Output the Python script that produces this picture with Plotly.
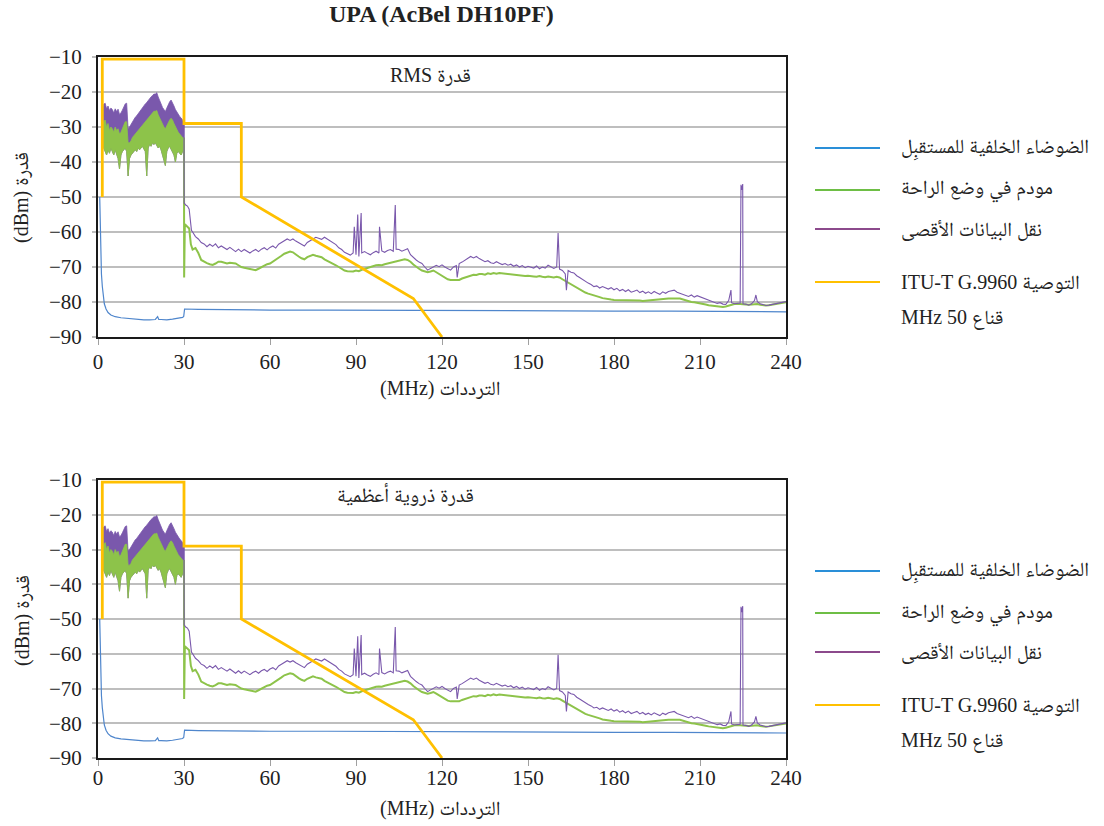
import plotly.graph_objects as go

# ---------------- data ----------------
# Yellow mask: ITU-T G.9960 50 MHz
MASK_F = [1.5, 1.5, 30, 30, 50, 50, 110, 120]
MASK_V = [-50, -10.6, -10.6, -29, -29, -50, -79, -90]

# Receiver background noise (blue)
NOISE_F = [0.6, 0.8, 1.0, 1.2, 1.5, 1.8, 2.2, 2.8, 3.5, 4.5,
           6, 8, 10, 12, 14, 16, 18, 20, 20.8, 21.2,
           22, 24, 26, 28, 29.5, 29.9, 30.2, 35, 45, 60,
           80, 100, 120, 140, 160, 180, 200, 220, 240]
NOISE_V = [-50, -62, -69, -72, -75.5, -78, -80.5, -82, -83, -83.7,
           -84.2, -84.5, -84.7, -84.9, -85, -85.1, -85.1, -85, -84.2, -85,
           -85, -85.1, -84.9, -84.7, -84.4, -84.1, -82.0, -82.1, -82.2, -82.3,
           -82.3, -82.4, -82.5, -82.4, -82.5, -82.6, -82.6, -82.7, -82.8]

# 2-30 MHz band envelopes
LOW_F = [1.8, 2.0, 2.5, 3.0, 3.5, 4.0, 4.5, 5.0, 5.5, 6.0, 6.5, 7.0, 7.5, 8.0, 8.5,
         9.0, 9.5, 10.0, 10.5, 11.0, 11.5, 12.0, 12.5, 13.0, 13.5, 14.0, 14.5, 15.0,
         15.5, 16.0, 16.5, 17.0, 17.5, 18.0, 18.5, 19.0, 19.5, 20.0, 20.5, 21.0, 21.5,
         22.0, 22.5, 23.0, 23.5, 24.0, 24.5, 25.0, 25.5, 26.0, 26.5, 27.0, 27.5, 28.0,
         28.5, 29.0, 29.5, 30.0]
MAXDATA_UP = [-27, -23.5, -23.2, -24.8, -24.0, -25.3, -24.6, -25.0, -26.0, -24.8, -25.6,
              -24.9, -26.4, -26.0, -25.2, -24.3, -23.4, -23.2, -30.5, -30.0, -29.2, -28.4,
              -27.9, -27.2, -26.8, -26.2, -25.8, -25.0, -24.6, -24.0, -23.4, -23.0, -22.4,
              -22.0, -21.4, -21.0, -20.6, -20.6, -20.2, -21.4, -22.5, -23.4, -24.4, -25.0,
              -25.6, -24.6, -23.6, -22.8, -22.3, -23.0, -24.0, -25.0, -25.8, -26.4, -27.0,
              -27.4, -28.0, -29.0]
IDLE_UP = [-30, -28.5, -28, -30, -29, -31, -30, -30.5, -31.5, -30, -31, -30.5, -32, -31.5,
           -30.5, -29.5, -28.5, -28.5, -34.5, -34.5, -34, -33, -32.5, -32, -31.5, -31, -30.5,
           -30, -29.5, -29, -28.5, -28, -27.5, -27, -26.5, -26, -25.5, -25.5, -25.3, -26.5,
           -27.5, -28.5, -29.5, -30, -30.5, -29.5, -28.5, -28, -27.5, -28, -29, -30, -31,
           -31.5, -32, -32.5, -33, -33.5]
IDLE_LO = [-34, -36, -37, -38, -36.5, -37.5, -36, -37, -38, -36.5, -37.5, -39, -42, -38,
           -37, -36.5, -36, -37, -44, -39, -38, -37.5, -37, -36.5, -37, -36, -36.5, -36,
           -35.5, -36, -37, -44, -36, -35, -35.5, -34.5, -35, -34.5, -35, -36, -35.5, -36.5,
           -38, -39, -41, -37, -36, -35.5, -36, -37, -38, -40, -37.5, -37, -37.5, -38, -37,
           -36]

# 33-240 MHz, 1 MHz grid
HI_F = list(range(33, 241))
MAXDATA_HI = [
    -60.0, -61.3, -62.0, -63.0, -63.4, -64.2, -63.5, -64.1, -63.4, -64.5,
    -64.0, -64.6, -65.0, -64.4, -65.1, -65.6, -64.9, -65.6, -65.0, -65.5,
    -66.0, -65.4, -65.0, -65.6, -64.9, -64.5, -65.1, -64.4, -64.0, -64.6,
    -63.5, -63.0, -62.6, -62.0, -62.4, -62.0, -62.6, -63.0, -63.6, -64.0,
    -63.0, -62.6, -62.0, -61.5, -61.8, -62.1, -61.5, -62.0, -62.6, -63.0,
    -63.6, -64.5, -65.0, -65.8, -66.2, -66.6, -66.0, -66.5, -67.0, -66.0,
    -65.6, -66.1, -66.5, -65.9, -65.5, -66.0, -65.4, -65.8, -65.3, -65.0,
    -65.5, -64.9, -65.0, -65.5, -65.2, -64.8, -66.5, -67.4, -68.0, -68.6,
    -69.0, -70.0, -70.9, -70.4, -70.0, -69.5, -69.9, -69.4, -70.0, -70.5,
    -70.9, -70.0, -69.6, -69.0, -68.6, -68.0, -67.6, -67.0, -67.4, -67.0,
    -67.6, -68.0, -68.5, -68.2, -68.8, -69.0, -68.5, -68.9, -69.3, -69.0,
    -69.5, -69.2, -69.8, -69.4, -70.0, -69.6, -70.2, -69.8, -70.0, -70.3,
    -69.7, -70.5, -70.0, -70.3, -69.5, -70.0, -70.4, -70.0, -70.6, -71.0,
    -72.0, -71.0, -71.5, -71.7, -72.5, -73.0, -73.6, -74.0, -74.6, -75.0,
    -75.6, -75.4, -76.0, -75.6, -76.0, -76.3, -75.9, -76.5, -76.1, -76.8,
    -76.4, -77.0, -76.5, -77.2, -76.9, -76.6, -77.3, -76.9, -77.5, -77.1,
    -77.6, -77.0, -77.4, -77.8, -77.1, -77.5, -77.0, -76.8, -76.6, -77.2,
    -77.5, -77.9, -78.0, -78.4, -78.0, -78.6, -78.2, -78.5, -79.0, -79.3,
    -79.5, -79.9, -80.0, -80.4, -80.2, -80.6, -80.7, -79.6, -80.2, -80.5,
    -80.3, -80.3, -80.5, -80.6, -80.9, -80.5, -79.6, -79.9, -80.5, -80.8,
    -81.0, -80.9, -80.7, -80.5, -80.3, -80.2, -80.0, -79.9]
IDLE_HI = [
    -65.0, -64.6, -66.0, -68.0, -68.5, -68.9, -69.2, -69.4, -69.0, -68.5,
    -68.5, -68.7, -69.0, -68.8, -68.9, -69.0, -69.5, -70.0, -70.2, -70.4,
    -70.7, -70.9, -70.9, -70.5, -70.0, -69.5, -69.2, -69.0, -68.5, -68.0,
    -67.5, -66.8, -66.2, -65.8, -65.6, -65.8, -66.5, -67.0, -67.5, -67.8,
    -67.2, -66.8, -66.5, -66.8, -67.0, -67.2, -67.8, -68.2, -68.5, -69.0,
    -69.5, -70.0, -70.5, -71.0, -71.2, -71.3, -71.3, -71.0, -71.2, -70.8,
    -70.5, -70.2, -70.0, -69.8, -69.5, -69.4, -69.5, -69.2, -69.0, -68.8,
    -68.5, -68.3, -68.0, -68.0, -67.8, -68.0, -68.5, -69.3, -70.0, -70.5,
    -71.0, -71.3, -71.5, -71.3, -71.0, -71.5, -72.0, -72.5, -73.0, -73.5,
    -73.7, -73.7, -73.5, -73.7, -73.3, -73.0, -72.6, -72.3, -72.2, -72.3,
    -72.0, -72.0, -72.2, -71.8, -72.0, -71.7, -71.9, -71.7, -71.8, -72.0,
    -71.9, -72.1, -72.2, -72.4, -72.3, -72.5, -72.6, -72.5, -72.7, -72.7,
    -72.8, -72.6, -72.8, -72.9, -72.7, -72.9, -73.0, -72.8, -73.0, -73.5,
    -74.0, -74.5, -75.0, -75.5, -76.0, -76.5, -77.0, -77.3, -77.6, -77.8,
    -78.0, -78.3, -78.6, -78.9, -79.1, -79.2, -79.3, -79.4, -79.4, -79.5,
    -79.5, -79.6, -79.6, -79.6, -79.5, -79.6, -79.6, -79.7, -79.6, -79.6,
    -79.6, -79.5, -79.4, -79.3, -79.2, -79.1, -79.0, -79.0, -78.9, -79.0,
    -79.0, -79.3, -79.6, -79.8, -80.0, -80.1, -80.2, -80.3, -80.5, -80.7,
    -80.9, -81.0, -81.2, -81.3, -81.4, -81.4, -81.3, -81.0, -80.8, -80.6,
    -80.5, -80.5, -80.6, -80.7, -80.8, -80.7, -80.5, -80.6, -80.8, -81.0,
    -81.0, -80.9, -80.8, -80.6, -80.4, -80.3, -80.2, -80.1]

# transitions at 30 MHz and narrow spikes
MAXDATA_EXTRA_F = [30.0, 30.05, 30.6, 31.2, 31.8, 32.2, 32.6, 89.4, 90.6, 91.8, 98.2,
                   103.7, 125.3, 160.5, 163.4, 220.8, 224.3, 224.6, 224.9, 229.5]
MAXDATA_EXTRA_V = [-29.0, -51.7, -52.3, -52.6, -53.5, -57.5, -59.5, -58.5, -55.0, -54.6,
                   -58.5, -52.3, -73.0, -60.3, -76.6, -76.6, -46.5, -48.0, -46.3, -78.0]
IDLE_EXTRA_F = [30.0, 30.05, 30.3, 31.0, 31.8, 32.4]
IDLE_EXTRA_V = [-33.0, -73.0, -57.8, -58.4, -59.0, -63.5]

X_TICKS = [0, 30, 60, 90, 120, 150, 180, 210, 240]
Y_TICKS = [-90, -80, -70, -60, -50, -40, -30, -20, -10]

TITLE = "<b>UPA (AcBel DH10PF)</b>"
PANEL_LABELS = ["RMS قدرة", "قدرة ذروية أعظمية"]
X_TITLE = "(MHz) الترددات"
Y_TITLE = "(dBm) قدرة"
LEGEND_TEXT = ["الضوضاء الخلفية للمستقبِل", "مودم في وضع الراحة", "نقل البيانات الأقصى",
               "ITU-T G.9960 التوصية", "MHz 50 قناع"]

# ---------------- styling ----------------
W, H = 1104, 826
FONT = "Liberation Serif, Times New Roman, Noto Naskh Arabic, DejaVu Sans, serif"
C_BLUE, C_GREEN, C_PURPLE, C_YELLOW = "#4F86CC", "#8DC34A", "#7A58AC", "#FFC000"
L_BLUE, L_GREEN, L_PURPLE = "#2A8FD8", "#6EBE45", "#8C4A8C"
TXT = "#222222"
TICK_SIZE, TEXT_SIZE = 21, 20


def px_x(px):
    return px / W


def px_y(py):
    return 1 - py / H


def merged(base_f, base_v, ex_f, ex_v):
    pts = sorted(list(zip(base_f, base_v)) + list(zip(ex_f, ex_v)))
    return [p[0] for p in pts], [p[1] for p in pts]


P_F, P_V = merged(HI_F, MAXDATA_HI, MAXDATA_EXTRA_F, MAXDATA_EXTRA_V)
G_F, G_V = merged(HI_F, IDLE_HI, IDLE_EXTRA_F, IDLE_EXTRA_V)

fig = go.Figure()
panels = [("x", "y", 0), ("x2", "y2", 423)]

for xa, ya, off in panels:
    fig.add_trace(go.Scatter(x=NOISE_F, y=NOISE_V, mode="lines", xaxis=xa, yaxis=ya,
                             line=dict(color=C_BLUE, width=1.2), hoverinfo="skip"))
    fig.add_trace(go.Scatter(x=LOW_F + LOW_F[::-1], y=MAXDATA_UP + IDLE_LO[::-1],
                             mode="lines", fill="toself", fillcolor=C_PURPLE,
                             xaxis=xa, yaxis=ya, line=dict(color=C_PURPLE, width=0.8),
                             hoverinfo="skip"))
    fig.add_trace(go.Scatter(x=LOW_F + LOW_F[::-1], y=IDLE_UP + IDLE_LO[::-1],
                             mode="lines", fill="toself", fillcolor=C_GREEN,
                             xaxis=xa, yaxis=ya, line=dict(color=C_GREEN, width=0.8),
                             hoverinfo="skip"))
    fig.add_trace(go.Scatter(x=G_F, y=G_V, mode="lines", xaxis=xa, yaxis=ya,
                             line=dict(color=C_GREEN, width=2), hoverinfo="skip"))
    fig.add_trace(go.Scatter(x=P_F, y=P_V, mode="lines", xaxis=xa, yaxis=ya,
                             line=dict(color=C_PURPLE, width=1.1), hoverinfo="skip"))
    fig.add_trace(go.Scatter(x=MASK_F, y=MASK_V, mode="lines", xaxis=xa, yaxis=ya,
                             line=dict(color=C_YELLOW, width=2.8), hoverinfo="skip"))

axis_common_x = dict(range=[0, 240], tickvals=X_TICKS, showgrid=False, zeroline=False,
                     showline=True, mirror=True, linecolor="#1a1a1a", linewidth=2,
                     ticks="outside", ticklen=6, tickcolor="#A0A0A0", tickwidth=1,
                     tickfont=dict(family=FONT, size=TICK_SIZE, color=TXT),
                     domain=[px_x(98), px_x(786)], automargin=False)
axis_common_y = dict(range=[-90, -10], tickvals=Y_TICKS, showgrid=True,
                     gridcolor="#BEBEBE", gridwidth=1.5, zeroline=False,
                     showline=True, mirror=True, linecolor="#1a1a1a", linewidth=2,
                     ticks="outside", ticklen=4, tickcolor="#BEBEBE", tickwidth=1.5,
                     ticklabelstandoff=6,
                     tickfont=dict(family=FONT, size=TICK_SIZE, color=TXT), automargin=False)

fig.update_layout(
    width=W, height=H, margin=dict(l=0, r=0, t=0, b=0),
    paper_bgcolor="white", plot_bgcolor="white", showlegend=False,
    xaxis=dict(axis_common_x, anchor="y", ticklabelstandoff=-1),
    yaxis=dict(axis_common_y, anchor="x", domain=[px_y(337), px_y(57)]),
    xaxis2=dict(axis_common_x, anchor="y2", ticklabelstandoff=-6),
    yaxis2=dict(axis_common_y, anchor="x2", domain=[px_y(758), px_y(480)]),
)

ann = []
shapes = []


def add_text(text, x, y, size, xanchor="center", angle=0):
    ann.append(dict(text=text, x=px_x(x), y=px_y(y), xref="paper", yref="paper",
                    xanchor=xanchor, yanchor="middle", showarrow=False, textangle=angle,
                    font=dict(family=FONT, size=size, color=TXT)))


add_text(TITLE, 441, 14, 24)
label_pos = [(430, 75), (405, 494)]
for i, (xa, ya, off) in enumerate(panels):
    lx, ly = label_pos[i]
    add_text(PANEL_LABELS[i], lx, ly, TEXT_SIZE)
    add_text(X_TITLE, 440, 389 + off - (4 if i else 0), TEXT_SIZE)
    add_text(Y_TITLE, 22, 197 + off, TEXT_SIZE, angle=-90)
    leg = [(148, L_BLUE, LEGEND_TEXT[0]), (190, L_GREEN, LEGEND_TEXT[1]),
           (229, L_PURPLE, LEGEND_TEXT[2]), (282, C_YELLOW, LEGEND_TEXT[3])]
    for yy, col, txt in leg:
        shapes.append(dict(type="line", xref="paper", yref="paper",
                           x0=px_x(815), x1=px_x(880), y0=px_y(yy + off), y1=px_y(yy + off),
                           line=dict(color=col, width=2)))
        add_text(txt, 899, yy + off, TEXT_SIZE, xanchor="left")
    add_text(LEGEND_TEXT[4], 899, 318 + off, TEXT_SIZE, xanchor="left")

fig.update_layout(annotations=ann, shapes=shapes)
# remove the page's default 8px body margin so the figure fills the window exactly
fig.write_html("out.html", config={"displayModeBar": False},
               post_script="document.body.style.margin='0';document.body.style.overflow='hidden';")
